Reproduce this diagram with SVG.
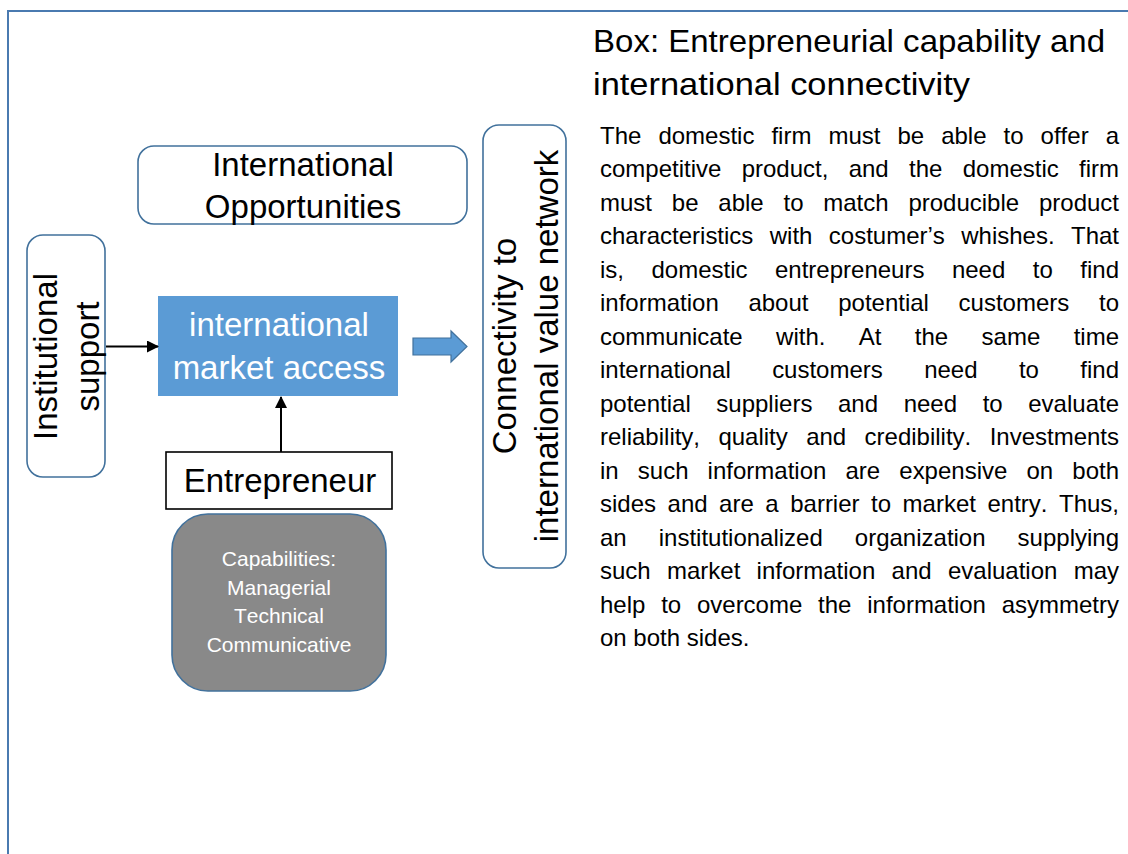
<svg xmlns="http://www.w3.org/2000/svg" width="1128" height="854" viewBox="0 0 1128 854">
<style>
text{font-family:"Liberation Sans",Arial,sans-serif;font-kerning:none;fill:#000}
.box{fill:#fff;stroke:#41719c;stroke-width:1.6}
.lbl{font-size:33px;text-anchor:middle}
.body{font-size:24px}
.cap{font-size:21px;fill:#fff;text-anchor:middle}
.conn{stroke:#000;stroke-width:2;fill:none}
</style>
<defs>
<marker id="ah" markerWidth="12" markerHeight="12" refX="11" refY="6" orient="auto" markerUnits="userSpaceOnUse">
<path d="M0,0 L12,6 L0,12 z" fill="#000"/>
</marker>
</defs>
<rect x="8" y="11" width="1200" height="900" fill="none" stroke="#4a7ab0" stroke-width="2"/>
<g id="title">
<text x="593" y="52" font-size="32" textLength="512" lengthAdjust="spacingAndGlyphs">Box: Entrepreneurial capability and</text>
<text x="593" y="95" font-size="32" textLength="377" lengthAdjust="spacingAndGlyphs">international connectivity</text>
</g>
<g id="body" class="body">
<text class="body" x="600" y="143.5" word-spacing="10.35" textLength="519" lengthAdjust="spacing">The domestic firm must be able to offer a</text>
<text class="body" x="600" y="177" word-spacing="13.63" textLength="519" lengthAdjust="spacing">competitive product, and the domestic firm</text>
<text class="body" x="600" y="210.5" word-spacing="13.13" textLength="519" lengthAdjust="spacing">must be able to match producible product</text>
<text class="body" x="600" y="244" word-spacing="9.72" textLength="519" lengthAdjust="spacing">characteristics with costumer’s whishes. That</text>
<text class="body" x="600" y="277.5" word-spacing="20.83" textLength="519" lengthAdjust="spacing">is, domestic entrepreneurs need to find</text>
<text class="body" x="600" y="311" word-spacing="23.03" textLength="519" lengthAdjust="spacing">information about potential customers to</text>
<text class="body" x="600" y="344.5" word-spacing="26.71" textLength="519" lengthAdjust="spacing">communicate with. At the same time</text>
<text class="body" x="600" y="378" word-spacing="34.70" textLength="519" lengthAdjust="spacing">international customers need to find</text>
<text class="body" x="600" y="411.5" word-spacing="18.95" textLength="519" lengthAdjust="spacing">potential suppliers and need to evaluate</text>
<text class="body" x="600" y="445" word-spacing="11.71" textLength="519" lengthAdjust="spacing">reliability, quality and credibility. Investments</text>
<text class="body" x="600" y="478.5" word-spacing="12.46" textLength="519" lengthAdjust="spacing">in such information are expensive on both</text>
<text class="body" x="600" y="512" word-spacing="4.85" textLength="519" lengthAdjust="spacing">sides and are a barrier to market entry. Thus,</text>
<text class="body" x="600" y="545.5" word-spacing="25.38" textLength="519" lengthAdjust="spacing">an institutionalized organization supplying</text>
<text class="body" x="600" y="579" word-spacing="9.63" textLength="519" lengthAdjust="spacing">such market information and evaluation may</text>
<text class="body" x="600" y="612.5" word-spacing="9.1" textLength="519" lengthAdjust="spacing">help to overcome the information asymmetry</text>
<text class="body" x="600" y="646">on both sides.</text>
</g>
<g id="opportunities">
<rect class="box" x="138" y="146" width="329" height="78" rx="16"/>
<text class="lbl" x="303" y="176">International</text>
<text class="lbl" x="303" y="218">Opportunities</text>
</g>
<g id="institutional">
<rect class="box" x="27" y="235" width="78" height="242" rx="16"/>
<text class="lbl" transform="translate(57,356.5) rotate(-90)">Institutional</text>
<text class="lbl" transform="translate(99,356.5) rotate(-90)">support</text>
</g>
<g id="market">
<rect x="158" y="296" width="240" height="100" fill="#5b9bd5"/>
<text class="lbl" x="279" y="336" fill="#fff" style="fill:#fff">international</text>
<text class="lbl" x="279" y="379" style="fill:#fff">market access</text>
</g>
<g id="entrepreneur">
<rect x="166" y="452" width="226" height="57" fill="#fff" stroke="#000" stroke-width="1.6"/>
<text class="lbl" x="280" y="492">Entrepreneur</text>
</g>
<g id="capabilities">
<rect x="172" y="514" width="214" height="177" rx="36" fill="#898989" stroke="#41719c" stroke-width="1.6"/>
<text class="cap" x="279" y="566">Capabilities:</text>
<text class="cap" x="279" y="595">Managerial</text>
<text class="cap" x="279" y="623">Technical</text>
<text class="cap" x="279" y="652">Communicative</text>
</g>
<g id="connectivity">
<rect class="box" x="483" y="125" width="83" height="443" rx="16"/>
<text class="lbl" transform="translate(516,346) rotate(-90)">Connectivity to</text>
<text class="lbl" transform="translate(558,346) rotate(-90)">international value network</text>
</g>
<g id="connectors">
<line class="conn" x1="106" y1="346.5" x2="158" y2="346.5" marker-end="url(#ah)"/>
<line class="conn" x1="281" y1="452" x2="281" y2="397" marker-end="url(#ah)"/>
<path d="M413,338 L451,338 L451,331 L467,346.5 L451,362 L451,355 L413,355 z" fill="#5b9bd5" stroke="#41719c" stroke-width="1.2"/>
</g>
</svg>
